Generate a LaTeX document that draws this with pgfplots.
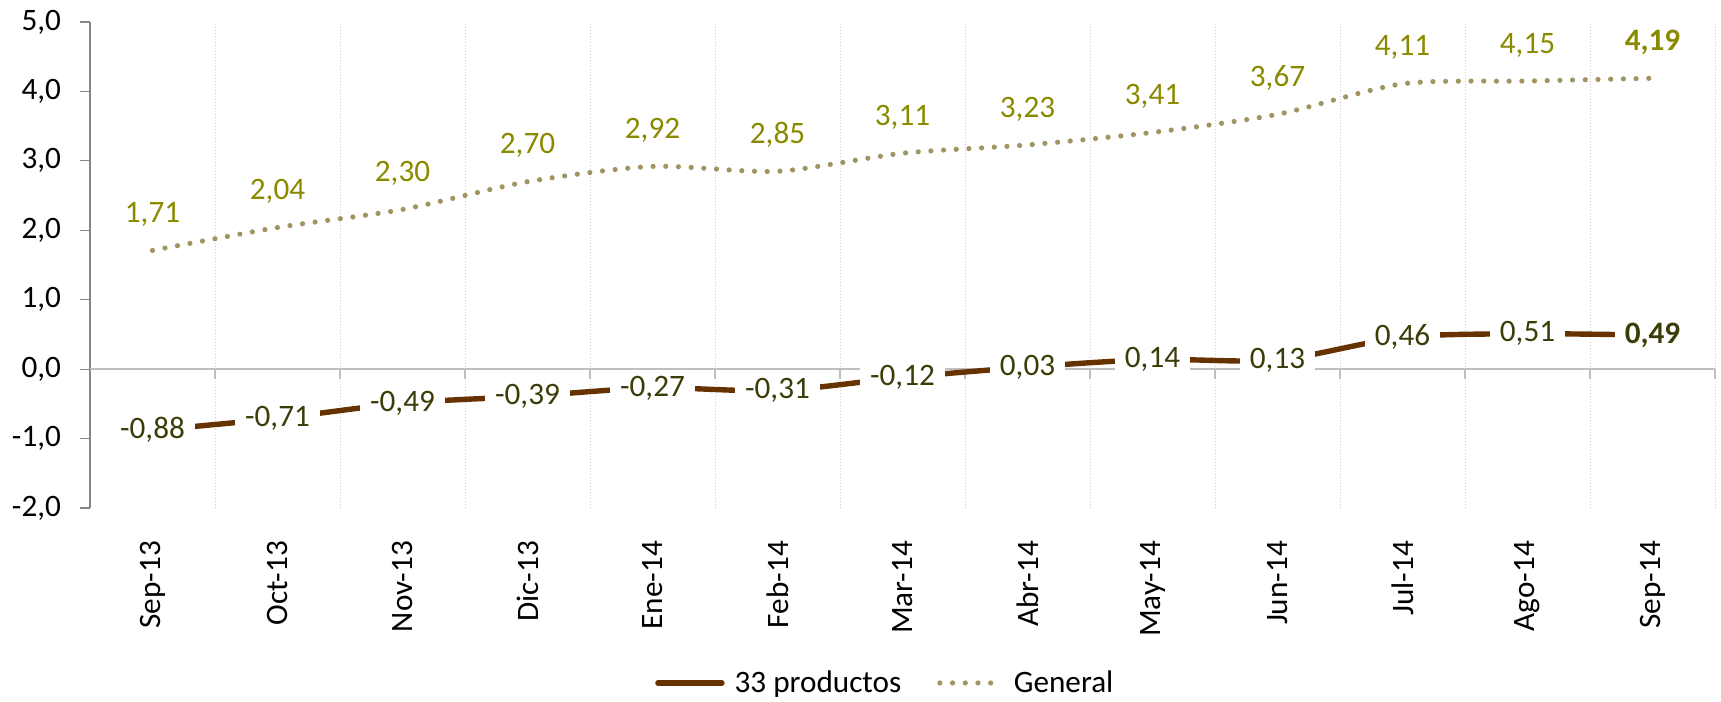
\documentclass[border=0pt]{standalone}
\usepackage{pgfplots}
\pgfplotsset{compat=1.18}
\usepackage{pgfplotstable}
\usepackage{fontspec}
\setmainfont{Carlito}
\definecolor{brownline}{HTML}{663300}
\definecolor{dotline}{HTML}{A09461}
\definecolor{genlab}{HTML}{8A8A00}
\definecolor{prodlab}{HTML}{3C3C08}
\definecolor{axgray}{HTML}{868686}
\definecolor{zgray}{HTML}{BFBFBF}
\definecolor{grd}{HTML}{CCCCCC}

\pgfplotstableread{
x y lab
0 -0.88 -0,88
1 -0.71 -0,71
2 -0.49 -0,49
3 -0.39 -0,39
4 -0.27 -0,27
5 -0.31 -0,31
6 -0.12 -0,12
7 0.03 0,03
8 0.14 0,14
9 0.13 0,13
10 0.46 0,46
11 0.51 0,51
12 0.49 \textbf{0,49}
}\prodtab

\pgfplotstableread{
x y lab
0 1.71 1,71
1 2.04 2,04
2 2.30 2,30
3 2.70 2,70
4 2.92 2,92
5 2.85 2,85
6 3.11 3,11
7 3.23 3,23
8 3.41 3,41
9 3.67 3,67
10 4.11 4,11
11 4.15 4,15
12 4.19 \textbf{4,19}
}\gentab

\newcommand{\chartfont}{\fontsize{15.6bp}{18bp}\selectfont}

\begin{document}
\begin{tikzpicture}
\useasboundingbox (0,0) rectangle (860.5bp,351bp);
\begin{axis}[
  at={(45bp,97bp)}, anchor=south west,
  scale only axis, width=812.5bp, height=243bp,
  xmin=-0.5, xmax=12.5, ymin=-2, ymax=5,
  clip=false,
  axis x line*=bottom, axis y line*=left,
  x axis line style={draw=none},
  y axis line style={draw=axgray, line width=0.6bp},
  xtick={0,...,12},
  xticklabels={Sep-13,Oct-13,Nov-13,Dic-13,Ene-14,Feb-14,Mar-14,Abr-14,May-14,Jun-14,Jul-14,Ago-14,Sep-14},
  xtick style={draw=none},
  minor xtick={0.5,1.5,...,12.5},
  xminorgrids,
  minor x grid style={grd, line width=0.5bp, dash pattern=on 0.6bp off 0.9bp},
  ytick={-2,-1,0,1,2,3,4,5},
  yticklabels={{-2,0},{-1,0},{0,0},{1,0},{2,0},{3,0},{4,0},{5,0}},
  ytick style={draw=axgray, line width=0.6bp},
  tick align=outside,
  major tick length=5bp,
  ticklabel style={font=\chartfont, text=black},
  xticklabel style={rotate=90, anchor=east},
  xticklabel shift=8bp,
  yticklabel shift=6bp,
  legend style={at={(0.490,-0.360)}, anchor=center, draw=none, fill=none,
    font=\chartfont, legend columns=2,
    /tikz/every odd column/.append style={column sep=3bp},
    /tikz/every even column/.append style={column sep=16bp}},
  legend cell align=left,
]
\draw[zgray, line width=0.8bp] (axis cs:-0.5,0) -- (axis cs:12.5,0);
\pgfplotsinvokeforeach{0.5,1.5,...,12.5}{
  \draw[zgray, line width=0.8bp] (axis cs:#1,0) -- ([yshift=-5bp]axis cs:#1,0);
}
\addplot[brownline, line width=2.7bp, smooth, tension=0.45, mark=none,
  point meta=explicit symbolic, nodes near coords,
  every node near coord/.append style={anchor=center, fill=white, inner xsep=5bp, inner ysep=1bp, text=prodlab, font=\chartfont},
  legend image code/.code={\draw[brownline, line width=2.7bp, line cap=round] (0bp,0bp) -- (32bp,0bp);}
] table[x=x, y=y, meta=lab] {\prodtab};
\addlegendentry{33 productos}
\addplot[dotline, line width=2.6bp, dash pattern=on 0bp off 6.35bp, line cap=round, smooth, tension=0.45, mark=none,
  point meta=explicit symbolic, nodes near coords,
  every node near coord/.append style={anchor=center, yshift=18bp, text=genlab, font=\chartfont},
  legend image code/.code={\draw[dotline, line width=2.6bp, dash pattern=on 0bp off 6.35bp, line cap=round] (1.3bp,0bp) -- (32bp,0bp);}
] table[x=x, y=y, meta=lab] {\gentab};
\addlegendentry{General}
\end{axis}
\end{tikzpicture}
\end{document}
